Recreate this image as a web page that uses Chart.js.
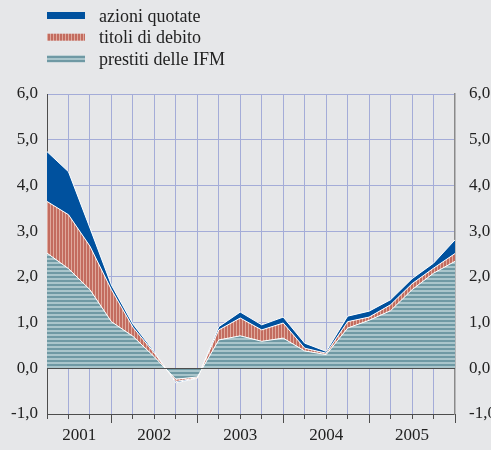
<!DOCTYPE html>
<html>
<head>
<meta charset="utf-8">
<title>Contributi alla crescita</title>
<script src="https://cdn.jsdelivr.net/npm/chart.js@4.4.1/dist/chart.umd.min.js"></script>
<style>
    html, body { margin: 0; padding: 0; background: #e6e7e9; }
    canvas { display: block; }
</style>
</head>
<body>
<canvas id="chart" width="491" height="450"></canvas>
<script>
// quarterly data, 2001 Q1 .. 2005 Q4
var quarters = [
    '2001 I', '2001 II', '2001 III', '2001 IV',
    '2002 I', '2002 II', '2002 III', '2002 IV',
    '2003 I', '2003 II', '2003 III', '2003 IV',
    '2004 I', '2004 II', '2004 III', '2004 IV',
    '2005 I', '2005 II', '2005 III', '2005 IV'
];
var years = ['2001', '2002', '2003', '2004', '2005'];
var prestiti = [2.52, 2.18, 1.72, 1.02, 0.70, 0.25, -0.24, -0.19, 0.62, 0.71, 0.59, 0.66, 0.38, 0.30, 0.88, 1.05, 1.26, 1.72, 2.08, 2.34];
var titoli = [1.13, 1.18, 0.95, 0.70, 0.20, 0.08, -0.05, -0.02, 0.22, 0.39, 0.25, 0.33, 0.06, 0.03, 0.14, 0.07, 0.13, 0.13, 0.11, 0.17];
var azioni = [1.09, 0.94, 0.40, 0.10, 0.07, 0.03, -0.03, -0.01, 0.07, 0.13, 0.11, 0.13, 0.11, 0.04, 0.12, 0.13, 0.11, 0.11, 0.11, 0.30];
var yTicks = [-1, 0, 1, 2, 3, 4, 5, 6];

var GRID = '#a4acd8';
var AXIS = '#4d4d4d';

Chart.defaults.font.family = '"Liberation Serif", "Times New Roman", serif';
Chart.defaults.font.size = 17;
Chart.defaults.color = '#222';

var canvas = document.getElementById('chart');
var mainCtx = canvas.getContext('2d');

// striped fills like the printed original
function stripes(period, darkPx, dark, light, vertical) {
    var c = document.createElement('canvas');
    c.width = vertical ? period : 1;
    c.height = vertical ? 1 : period;
    var g = c.getContext('2d');
    g.fillStyle = light;
    g.fillRect(0, 0, c.width, c.height);
    g.fillStyle = dark;
    if (vertical) {
        g.fillRect(0, 0, darkPx, 1);
    } else {
        g.fillRect(0, 0, 1, darkPx);
    }
    return mainCtx.createPattern(c, 'repeat');
}

var tealFill = stripes(4, 2, '#6f99a4', '#a9c5cb', false);
var redFill = stripes(3, 2, '#c36c5f', '#dfa99c', true);
var blueFill = '#00519e';

function fmt(v) {
    return v.toFixed(1).replace('.', ',');
}

function setYTicks(scale) {
    scale.ticks = yTicks.map(function (v) { return { value: v }; });
}

// zero line over the areas, plus the longer ticks at year ends
var axisExtras = {
    id: 'axisExtras',
    afterDatasetsDraw: function (chart) {
        var ctx = chart.ctx;
        var area = chart.chartArea;
        var x = chart.scales.x;
        var y0 = Math.round(chart.scales.y.getPixelForValue(0)) + 0.5;
        ctx.save();
        ctx.strokeStyle = AXIS;
        ctx.lineWidth = 1;
        ctx.beginPath();
        ctx.moveTo(area.left, y0);
        ctx.lineTo(area.right, y0);
        quarters.forEach(function (q, i) {
            if (i % 4 === 3) {
                var px = Math.round(x.getPixelForValue(i)) + 0.5;
                ctx.moveTo(px, area.bottom);
                ctx.lineTo(px, area.bottom + 9);
            }
        });
        ctx.stroke();
        ctx.restore();
    }
};

var legendBlock = {
    id: 'legendBlock',
    afterDraw: function (chart) {
        var ctx = chart.ctx;
        var sets = chart.data.datasets.slice().reverse();
        ctx.save();
        ctx.font = '18px "Liberation Serif", "Times New Roman", serif';
        ctx.textBaseline = 'middle';
        sets.forEach(function (ds, i) {
            var cy = 16 + i * 21.7;
            ctx.fillStyle = ds.backgroundColor;
            ctx.fillRect(47, cy - 4, 38, 7);
            ctx.fillStyle = '#222';
            ctx.fillText(ds.label, 99, cy + 1);
        });
        ctx.restore();
    }
};

new Chart(canvas, {
    type: 'line',
    data: {
        labels: quarters,
        datasets: [{
            label: 'prestiti delle IFM',
            data: prestiti,
            backgroundColor: tealFill,
            fill: 'origin',
        }, {
            label: 'titoli di debito',
            data: titoli,
            backgroundColor: redFill,
            fill: '-1',
        }, {
            label: 'azioni quotate',
            data: azioni,
            backgroundColor: blueFill,
            fill: '-1',
        }],
    },
    options: {
        responsive: false,
        animation: false,
        devicePixelRatio: 1,
        layout: { padding: { top: 94, left: 0, right: 0, bottom: 0 } },
        elements: {
            line: { borderColor: '#ffffff', borderWidth: 1, tension: 0 },
            point: { radius: 0 },
        },
        plugins: { legend: { display: false }, tooltip: { enabled: false } },
        scales: {
            x: {
                type: 'category',
                offset: false,
                afterBuildTicks: function (scale) {
                    var ticks = quarters.map(function (q, i) { return { value: i }; });
                    years.forEach(function (yr, k) {
                        var a = Math.max(0, 4 * k - 1);
                        var b = Math.min(quarters.length - 1, 4 * k + 3);
                        ticks.push({ value: (a + b) / 2, year: yr });
                    });
                    scale.ticks = ticks;
                },
                afterFit: function (scale) { scale.height = 36; },
                ticks: {
                    autoSkip: false,
                    maxRotation: 0,
                    padding: 6,
                    callback: function (v, i, ticks) { return ticks[i].year || ''; },
                },
                grid: {
                    color: function (c) {
                        var t = c.tick;
                        if (!t || t.year || t.value === 0 || t.value === quarters.length - 1) {
                            return 'transparent';
                        }
                        return GRID;
                    },
                    tickColor: function (c) {
                        return c.tick && c.tick.year ? 'transparent' : AXIS;
                    },
                    tickLength: 5,
                },
                border: { color: AXIS, width: 1 },
            },
            y: {
                position: 'left',
                stacked: true,
                min: -1,
                max: 6,
                afterBuildTicks: setYTicks,
                afterFit: function (scale) { scale.width = 47; },
                ticks: { padding: 9, callback: fmt },
                grid: {
                    drawTicks: false,
                    color: function (c) {
                        if (!c.tick || c.tick.value === -1) {
                            return 'transparent';
                        }
                        return c.tick.value === 0 ? AXIS : GRID;
                    },
                },
                border: { color: AXIS, width: 1 },
            },
            y2: {
                position: 'right',
                min: -1,
                max: 6,
                afterBuildTicks: setYTicks,
                afterFit: function (scale) { scale.width = 36; },
                ticks: { padding: 14, callback: fmt },
                grid: { display: false, drawTicks: false },
                border: { color: '#8a8a8a', width: 1.5 },
            },
        },
    },
    plugins: [axisExtras, legendBlock],
});
</script>
</body>
</html>
